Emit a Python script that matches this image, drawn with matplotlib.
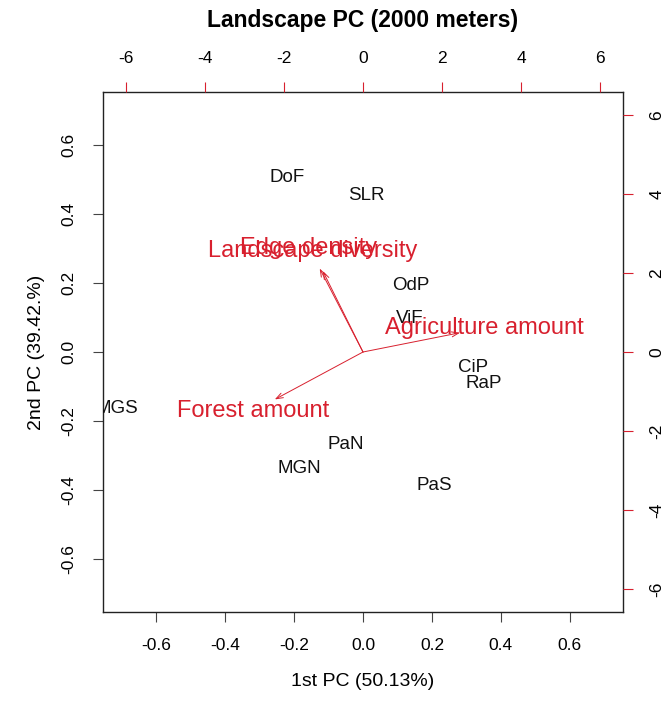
import numpy as np
import matplotlib
matplotlib.use("Agg")
from matplotlib import pyplot as plt

plt.rcParams['font.family'] = ['Liberation Sans', 'DejaVu Sans']

# site scores (1st / 2nd PC)
sites = ["DoF", "SLR", "OdP", "ViF", "CiP", "RaP", "MGS", "PaN", "MGN", "PaS"]
pc1 = [-0.220, 0.009, 0.139, 0.136, 0.319, 0.351, -0.713, -0.049, -0.186, 0.206]
pc2 = [0.507, 0.455, 0.194, 0.096, -0.046, -0.090, -0.165, -0.267, -0.339, -0.386]

# variable loadings (label positions, arrows drawn to 0.8 of them)
variables = ["Forest amount", "Agriculture amount", "Landscape diversity", "Edge density"]
load1 = [-2.79, 3.07, -1.27, -1.37]
load2 = [-1.50, 0.61, 2.56, 2.64]

score_ticks = [-0.6, -0.4, -0.2, 0.0, 0.2, 0.4, 0.6]
load_ticks = [-6, -4, -2, 0, 2, 4, 6]

red = '#d8202e'
lim = 0.754
lim2 = 6.58

fig = plt.figure(figsize=(6.66, 7.06), dpi=100)
pos = [103 / 666, 1 - 612 / 706, 520 / 666, 520 / 706]

ax = fig.add_axes(pos)
ax.set_xlim(-lim, lim)
ax.set_ylim(-lim, lim)
for s, x, y in zip(sites, pc1, pc2):
    ax.text(x, y, s, ha='center', va='center', fontsize=13.5, color='#111111', clip_on=True)
ax.set_xticks(score_ticks)
ax.set_yticks(score_ticks)
ax.set_xticklabels([f"{t:.1f}" for t in score_ticks])
ax.set_yticklabels([f"{t:.1f}" for t in score_ticks], rotation=90, va='center')
ax.tick_params(direction='out', length=7, width=0.8, pad=12, labelsize=12.5, color='#444444')
for sp in ax.spines.values():
    sp.set_linewidth(1.0)
    sp.set_color('#222222')
ax.set_xlabel("1st PC (50.13%)", fontsize=14, labelpad=14)
ax.set_ylabel("2nd PC (39.42.%)", fontsize=14, labelpad=12)

# loadings on their own scale (top and right axes)
ax2 = fig.add_axes(pos, frameon=False)
ax2.set_xlim(-lim2, lim2)
ax2.set_ylim(-lim2, lim2)
ax2.patch.set_alpha(0)
ax2.xaxis.tick_top()
ax2.yaxis.tick_right()
ax2.set_xticks(load_ticks)
ax2.set_yticks(load_ticks)
ax2.set_xticklabels([str(t) for t in load_ticks])
ax2.set_yticklabels([str(t) for t in load_ticks], rotation=90, va='center')
ax2.tick_params(direction='out', length=7, width=0.8, pad=12, labelsize=12.5, color=red)

for name, x, y in zip(variables, load1, load2):
    ax2.annotate("", xy=(0.8 * x, 0.8 * y), xytext=(0, 0),
                 arrowprops=dict(arrowstyle='->,head_length=0.5,head_width=0.18',
                                 color=red, lw=0.7, shrinkA=0, shrinkB=0))
    ax2.text(x, y, name, ha='center', va='center', fontsize=17, color=red)

# title centred over the plotting region
fig.text(pos[0] + pos[2] / 2, 1 - 20 / 706, "Landscape PC (2000 meters)",
         ha='center', va='center', fontsize=16.5, fontweight='bold')

fig.savefig("out.png", dpi=100)
